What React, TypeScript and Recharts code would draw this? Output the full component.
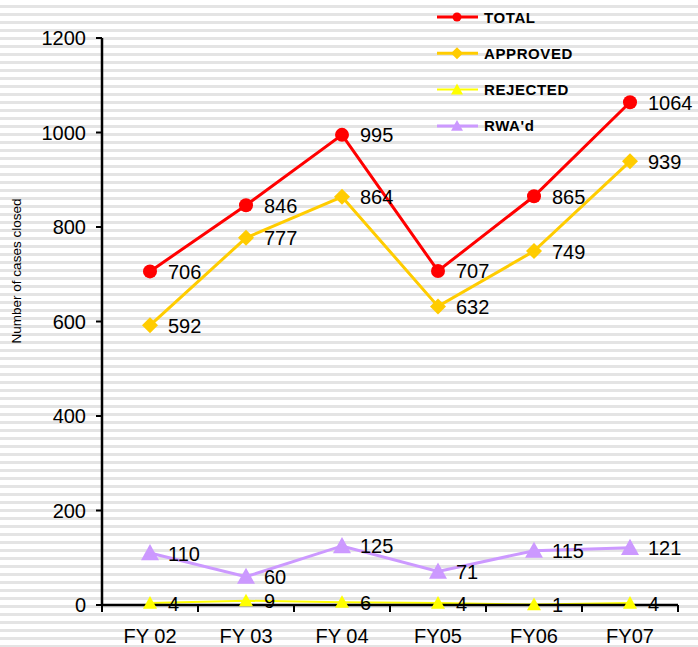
import React from 'react'
import { LineChart, Line, XAxis, YAxis, LabelList } from 'recharts'

// ── Data ──────────────────────────────────────────────────────────────────────

const YEARS = ['FY 02', 'FY 03', 'FY 04', 'FY05', 'FY06', 'FY07']
const TOTAL = [706, 846, 995, 707, 865, 1064]
const APPROVED = [592, 777, 864, 632, 749, 939]
const REJECTED = [4, 9, 6, 4, 1, 4]
const RWAD = [110, 60, 125, 71, 115, 121]
const Y_TICKS = [0, 200, 400, 600, 800, 1000, 1200]

const data = YEARS.map((year, i) => ({
  year,
  total: TOTAL[i],
  approved: APPROVED[i],
  rejected: REJECTED[i],
  rwad: RWAD[i],
}))

// ── Palette / layout ──────────────────────────────────────────────────────────

const RED = '#FF0000'
const GOLD = '#FFCC00'
const YELLOW = '#FFFF00'
const LILAC = '#CC99FF'
const FONT = '"Liberation Sans", Arial, sans-serif'

const W = 698
const H = 647
const M = { top: 38, right: 20, left: 0, bottom: 0 }
const Y_W = 102
const X_H = 42
const BAND = (W - M.right - Y_W) / YEARS.length

// ── Markers ───────────────────────────────────────────────────────────────────

function diamond(cx: number, cy: number, s: number) {
  return `M${cx},${cy - s}L${cx + s},${cy}L${cx},${cy + s}L${cx - s},${cy}Z`
}
function triangle(cx: number, cy: number, s: number) {
  return `M${cx},${cy - s}L${cx + s},${cy + s * 0.8}L${cx - s},${cy + s * 0.8}Z`
}

const DiamondDot = (p: any) => <path key={p.key ?? p.index} d={diamond(p.cx, p.cy, 8)} fill={GOLD} />
const SmallTri = (p: any) => <path key={p.key ?? p.index} d={triangle(p.cx, p.cy, 7)} fill={YELLOW} />
const BigTri = (p: any) => <path key={p.key ?? p.index} d={triangle(p.cx, p.cy, 9)} fill={LILAC} />

// ── Labels / ticks ────────────────────────────────────────────────────────────

const ValueLabel = (p: any) => (
  <text x={p.x + 18} y={p.y} dy={7.5} fontSize={20} fontFamily={FONT} fill="#000">
    {p.value}
  </text>
)

const XTick = (p: any) => {
  const { x, y, payload, index, visibleTicksCount } = p
  return (
    <g>
      <line x1={x - BAND / 2} x2={x - BAND / 2} y1={y} y2={y + 7} stroke="#000" strokeWidth={2} />
      {index === visibleTicksCount - 1 && (
        <line x1={x + BAND / 2} x2={x + BAND / 2} y1={y} y2={y + 7} stroke="#000" strokeWidth={2} />
      )}
      <text x={x} y={y + 38} textAnchor="middle" fontSize={20} fontFamily={FONT} fill="#000">
        {payload.value}
      </text>
    </g>
  )
}

const YTitle = () => (
  <text
    x={21}
    y={271}
    transform="rotate(-90 21 271)"
    textAnchor="middle"
    fontSize={13.5}
    fontFamily={FONT}
    fill="#000"
  >
    Number of cases closed
  </text>
)

// ── Legend ────────────────────────────────────────────────────────────────────

const LEGEND = [
  { name: 'TOTAL', color: RED, marker: 'circle', width: 3 },
  { name: 'APPROVED', color: GOLD, marker: 'diamond', width: 3 },
  { name: 'REJECTED', color: YELLOW, marker: 'tri', width: 2 },
  { name: "RWA'd", color: LILAC, marker: 'tri', width: 3 },
]

function ChartLegend() {
  return (
    <svg width={260} height={140} style={{ position: 'absolute', left: 430, top: 0 }}>
      {LEGEND.map((item, i) => {
        const cy = 17 + i * 36.3
        const cx = 27
        return (
          <g key={item.name}>
            <line x1={7} x2={48} y1={cy} y2={cy} stroke={item.color} strokeWidth={item.width} />
            {item.marker === 'circle' && <circle cx={cx} cy={cy} r={4.5} fill={item.color} />}
            {item.marker === 'diamond' && <path d={diamond(cx, cy, 6)} fill={item.color} />}
            {item.marker === 'tri' && <path d={triangle(cx, cy, 6)} fill={item.color} />}
            <text x={54} y={cy} dy={5.5} fontSize={15} fontWeight="bold" fontFamily={FONT} letterSpacing={0.6} fill="#000">
              {item.name}
            </text>
          </g>
        )
      })}
    </svg>
  )
}

// ── App ───────────────────────────────────────────────────────────────────────

export default function App() {
  return (
    <div
      style={{
        position: 'absolute',
        left: 0,
        top: 0,
        width: W,
        height: H,
        background: 'repeating-linear-gradient(to bottom, #ffffff 0px, #ffffff 5px, #e4e4e4 5px, #e4e4e4 8px)',
      }}
    >
      <LineChart width={W} height={H} data={data} margin={M}>
        <XAxis
          dataKey="year"
          height={X_H}
          padding={{ left: BAND / 2, right: BAND / 2 }}
          axisLine={{ stroke: '#000', strokeWidth: 2.5 }}
          tickLine={false}
          tickSize={0}
          tickMargin={0}
          tick={<XTick />}
          interval={0}
        />
        <YAxis
          width={Y_W}
          domain={[0, 1200]}
          ticks={Y_TICKS}
          interval={0}
          axisLine={{ stroke: '#000', strokeWidth: 2.5 }}
          tickLine={{ stroke: '#000', strokeWidth: 2 }}
          tickSize={6}
          tickMargin={10}
          tick={{ fontSize: 20, fontFamily: FONT, fill: '#000' }}
          label={<YTitle />}
        />
        <Line dataKey="rejected" stroke={YELLOW} strokeWidth={2} dot={SmallTri} isAnimationActive={false}>
          <LabelList dataKey="rejected" content={ValueLabel} />
        </Line>
        <Line dataKey="rwad" stroke={LILAC} strokeWidth={3} dot={BigTri} isAnimationActive={false}>
          <LabelList dataKey="rwad" content={ValueLabel} />
        </Line>
        <Line dataKey="approved" stroke={GOLD} strokeWidth={3} dot={DiamondDot} isAnimationActive={false}>
          <LabelList dataKey="approved" content={ValueLabel} />
        </Line>
        <Line
          dataKey="total"
          stroke={RED}
          strokeWidth={3}
          dot={{ r: 7, fill: RED, stroke: RED, strokeWidth: 0 }}
          isAnimationActive={false}
        >
          <LabelList dataKey="total" content={ValueLabel} />
        </Line>
      </LineChart>
      <ChartLegend />
    </div>
  )
}
